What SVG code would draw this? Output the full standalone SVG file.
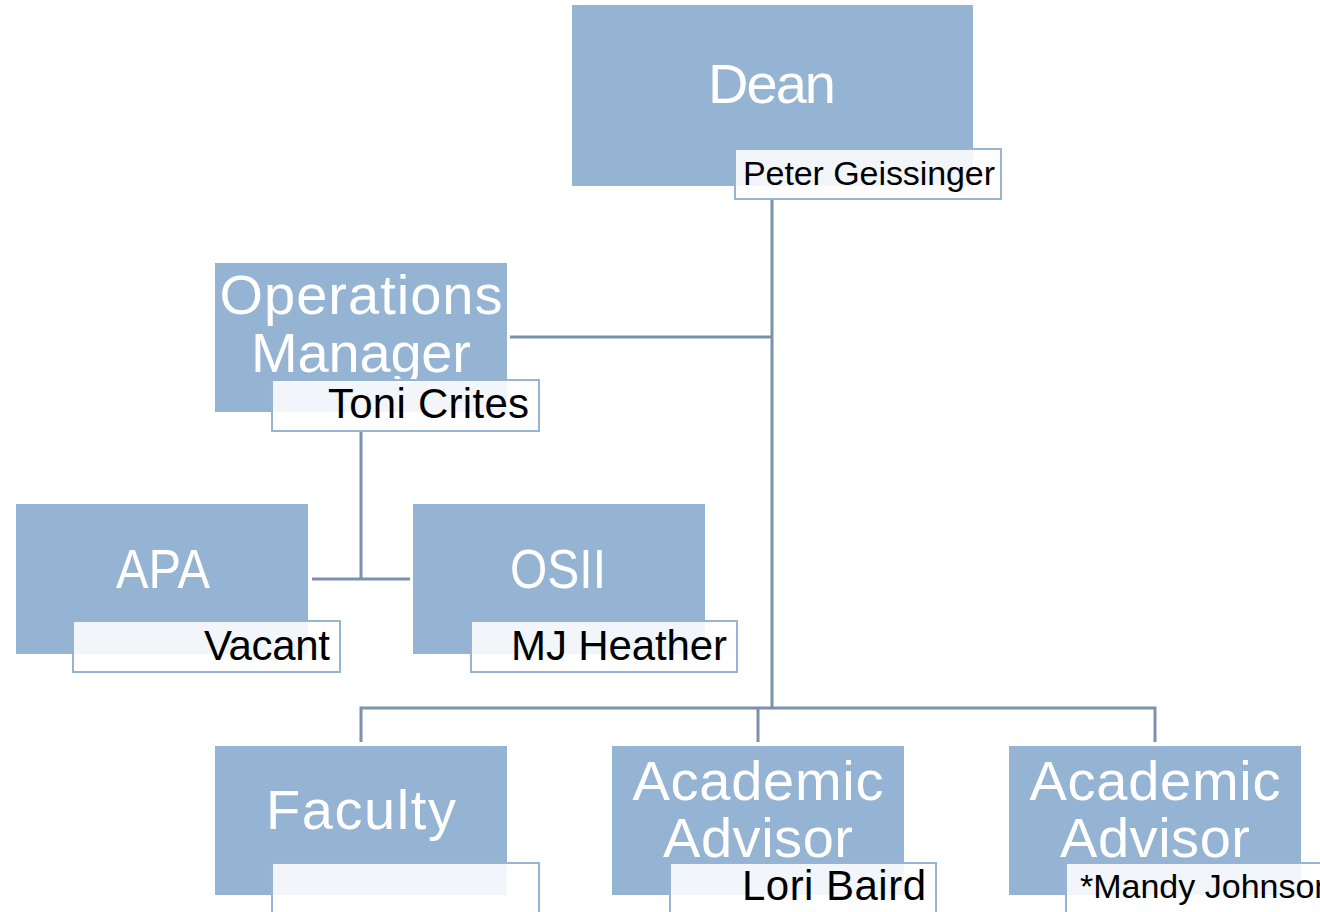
<svg xmlns="http://www.w3.org/2000/svg" width="1320" height="912" viewBox="0 0 1320 912">
<style>
.box{fill:#95B4D3}
.lbl{fill:#ffffff;fill-opacity:0.88;stroke:#97B4D3;stroke-width:2}
.t{font-family:"Liberation Sans",Arial,sans-serif;font-size:56px;fill:#ffffff;text-anchor:middle}
.n{font-family:"Liberation Sans",Arial,sans-serif;font-size:42px;fill:#000000}
.s{font-family:"Liberation Sans",Arial,sans-serif;font-size:34px;fill:#000000}
.c{fill:none;stroke:#7A92AB;stroke-width:3}
</style>
<rect width="1320" height="912" fill="#ffffff"/>
<g id="connectors">
<path class="c" d="M772 199V708"/>
<path class="c" d="M510 337H772"/>
<path class="c" d="M361 431V579M312 579H410"/>
<path class="c" d="M361 742V708H1155V742M758 708V742"/>
</g>
<g id="dean">
<rect class="box" x="572" y="5" width="401" height="181"/>
<text class="t" x="772" y="103" textLength="128">Dean</text>
<rect class="lbl" x="735" y="149" width="266" height="50"/>
<text class="s" x="743" y="185" textLength="252">Peter Geissinger</text>
</g>
<g id="ops">
<rect class="box" x="215" y="263" width="292" height="149"/>
<text class="t" x="361" y="314" textLength="283">Operations</text>
<text class="t" x="361" y="372" textLength="220">Manager</text>
<rect class="lbl" x="272" y="380" width="267" height="51"/>
<text class="n" x="328" y="418" textLength="201">Toni Crites</text>
</g>
<g id="apa">
<rect class="box" x="16" y="504" width="292" height="150"/>
<text class="t" x="163" y="588" textLength="94" lengthAdjust="spacingAndGlyphs">APA</text>
<rect class="lbl" x="73" y="621" width="267" height="51"/>
<text class="n" x="204" y="660" textLength="126">Vacant</text>
</g>
<g id="osii">
<rect class="box" x="413" y="504" width="292" height="150"/>
<text class="t" x="558" y="588" textLength="96" lengthAdjust="spacingAndGlyphs">OSII</text>
<rect class="lbl" x="471" y="621" width="266" height="51"/>
<text class="n" x="511" y="660" textLength="216">MJ Heather</text>
</g>
<g id="faculty">
<rect class="box" x="215" y="746" width="292" height="149"/>
<text class="t" x="361" y="829" textLength="190">Faculty</text>
<rect class="lbl" x="272" y="863" width="267" height="60"/>
</g>
<g id="advisor1">
<rect class="box" x="612" y="746" width="292" height="149"/>
<text class="t" x="758" y="800" textLength="251">Academic</text>
<text class="t" x="758" y="857" textLength="190">Advisor</text>
<rect class="lbl" x="670" y="863" width="266" height="60"/>
<text class="n" x="742" y="900" textLength="184">Lori Baird</text>
</g>
<g id="advisor2">
<rect class="box" x="1009" y="746" width="292" height="149"/>
<text class="t" x="1155" y="800" textLength="251">Academic</text>
<text class="t" x="1155" y="857" textLength="190">Advisor</text>
<rect class="lbl" x="1066" y="863" width="266" height="60"/>
<text class="s" x="1080" y="898">*Mandy Johnson</text>
</g>
</svg>
